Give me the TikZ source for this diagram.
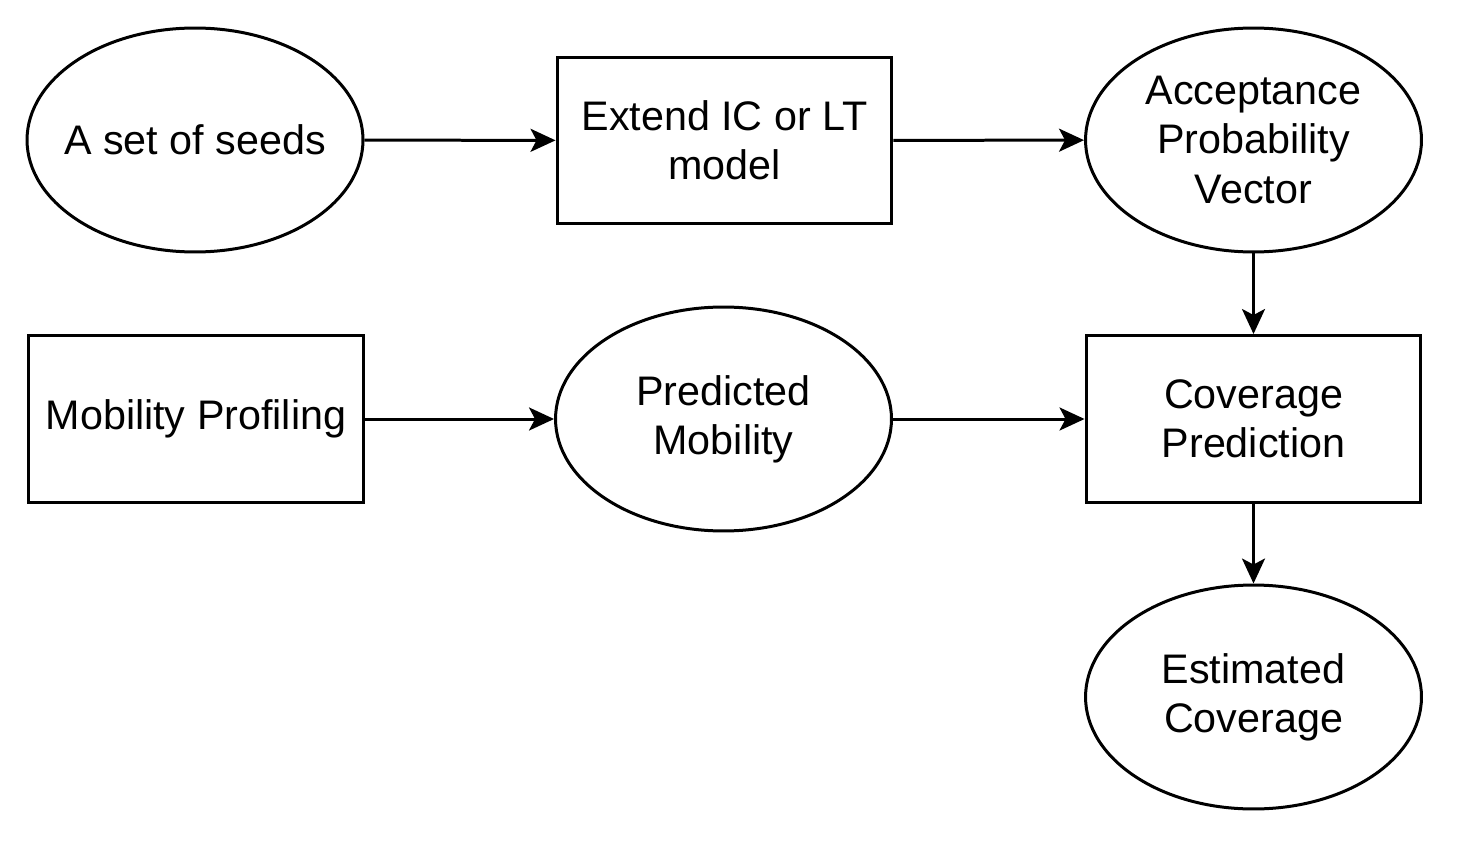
\documentclass[tikz,border=0pt]{standalone}
\usepackage{fontspec}
\setmainfont{Liberation Sans}
\usetikzlibrary{shapes.geometric,arrows.meta}

\begin{document}
\begin{tikzpicture}[x=0.02cm, y=-0.02cm, line width=0.06cm,
    box/.style={draw, rectangle, minimum width=6.7cm, minimum height=3.34cm, inner sep=0pt},
    oval/.style={draw, ellipse, minimum width=6.72cm, minimum height=4.48cm, inner sep=0pt},
    txt/.style={align=center, font=\fontsize{23.5}{28}\selectfont, inner sep=0pt},
    flow/.style={-{Stealth[length=0.5cm, width=0.46cm, inset=0.12cm]}}]
    \useasboundingbox (0,0) rectangle (1459,844);
    % first row
    \node[oval, label={[txt]center:A set of seeds}] (seeds) at (195,140) {};
    \node[box] (extend) at (724.5,140.5) {};
    \node[txt] at (extend) {Extend IC or LT\\model};
    \node[oval, label={[txt]center:{Acceptance\\Probability\\Vector}}] (accept) at (1253.5,140) {};
    % second row
    \node[box] (profiling) at (196,419) {};
    \node[txt] at (profiling) {Mobility Profiling};
    \node[oval, label={[txt]center:{Predicted\\Mobility}}] (mobility) at (723.5,419) {};
    \node[box] (coverage) at (1253.5,419) {};
    \node[txt] at (coverage) {Coverage\\Prediction};
    % result
    \node[oval, label={[txt]center:{Estimated\\Coverage}}] (estimated) at (1253.5,697) {};

    \draw[flow] (seeds) -- (extend);
    \draw[flow] (extend) -- (accept);
    \draw[flow] (accept) -- (coverage);
    \draw[flow] (profiling) -- (mobility);
    \draw[flow] (mobility) -- (coverage);
    \draw[flow] (coverage) -- (estimated);
\end{tikzpicture}
\end{document}
